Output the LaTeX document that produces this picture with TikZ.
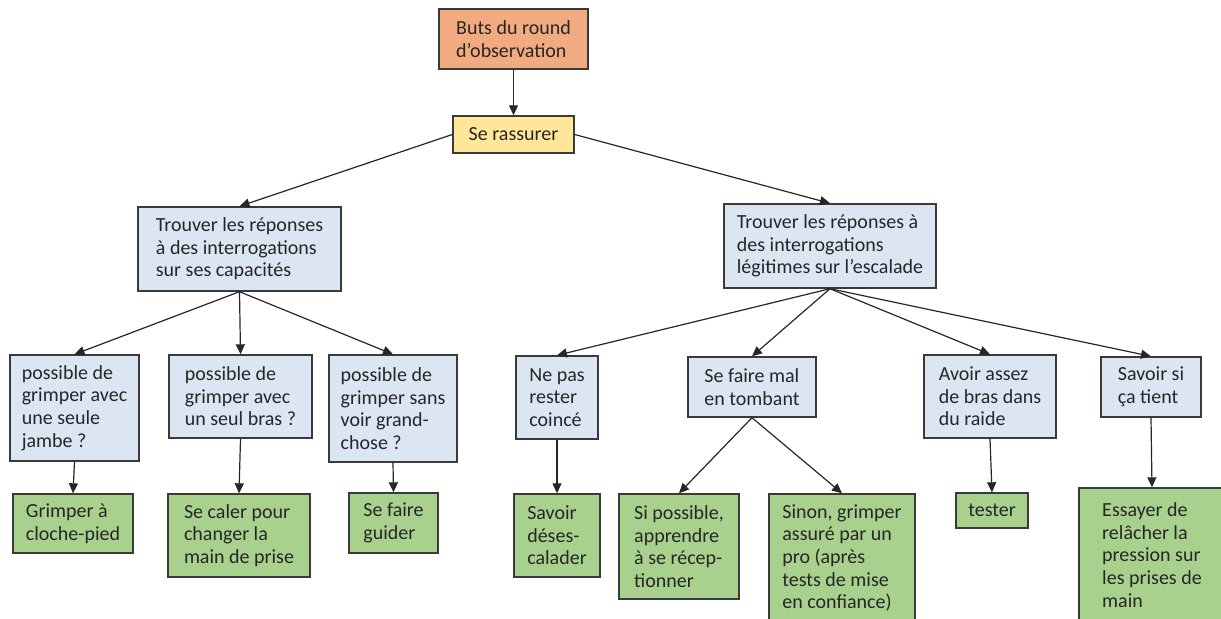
\documentclass[tikz,border=0pt]{standalone}
\usepackage{fontspec}
\setmainfont{Carlito}
\usepackage{xcolor}
\usetikzlibrary{arrows.meta}

\definecolor{butfill}{HTML}{F2AA80}
\definecolor{rassfill}{HTML}{FFE699}
\definecolor{questfill}{HTML}{DCE6F2}
\definecolor{repfill}{HTML}{A9D18E}
\definecolor{bord}{HTML}{3A3A3A}

\begin{document}
\begin{tikzpicture}[x=0.5pt, y=-0.5pt,
        boite/.style={draw=bord, line width=0.7pt, align=left, inner xsep=2pt, inner ysep=1pt,
            text=black!85, font=\fontsize{10}{11.3}\selectfont},
        but/.style={boite, fill=butfill},
        rass/.style={boite, fill=rassfill},
        quest/.style={boite, fill=questfill},
        rep/.style={boite, fill=repfill},
        fleche/.style={draw=black!85, line width=0.6pt, -{Triangle[length=5pt, width=4.5pt]}}]
    \useasboundingbox (0, 0) rectangle (1221, 618);
    \clip (0, 0) rectangle (1221, 618);

    % haut de l'arbre
    \node[but, minimum width=74.5pt, minimum height=30pt] (buts) at (513.5, 39) {Buts du round\\d’observation};
    \node[rass, minimum width=60.5pt, minimum height=18.5pt] (rassurer) at (513.5, 134.5) {Se rassurer};

    \node[quest, minimum width=101.5pt, minimum height=42pt] (capa) at (239.5, 249) {Trouver les réponses\\à des interrogations\\sur ses capacités};
    \node[quest, minimum width=106pt, minimum height=42pt] (escal) at (830, 246) {Trouver les réponses à\\des interrogations\\légitimes sur l’escalade};

    % branche gauche
    \node[quest, minimum width=64.5pt, minimum height=53pt] (jambe) at (74.5, 408) {possible de\\grimper avec\\une seule\\jambe ?};
    \node[quest, minimum width=71.5pt, minimum height=41.5pt] (bras) at (240.5, 396.5) {possible de\\grimper avec\\un seul bras ?};
    \node[quest, minimum width=64pt, minimum height=53.5pt] (voir) at (393, 408.5) {possible de\\grimper sans\\voir grand-\\chose ?};

    \node[rep, minimum width=60pt, minimum height=29.5pt] (cloche) at (73, 523.5) {Grimper à\\cloche-pied};
    \node[rep, minimum width=71pt, minimum height=41.5pt] (caler) at (239, 535.5) {Se caler pour\\changer la\\main de prise};
    \node[rep, minimum width=44.5pt, minimum height=30pt] (guider) at (393.5, 523) {Se faire\\guider};

    % branche droite
    \node[quest, minimum width=41pt, minimum height=41.5pt] (coince) at (557, 397.5) {Ne pas\\rester\\coincé};
    \node[quest, minimum width=64pt, minimum height=30pt] (tomber) at (752, 387) {Se faire mal\\en tombant};
    \node[quest, minimum width=66pt, minimum height=41.5pt] (raide) at (990, 396.5) {Avoir assez\\de bras dans\\du raide};
    \node[quest, minimum width=50pt, minimum height=30pt] (tient) at (1151, 387) {Savoir si\\ça tient};

    \node[rep, minimum width=43pt, minimum height=41.5pt] (deses) at (557, 535.5) {Savoir\\déses-\\calader};
    \node[rep, minimum width=60pt, minimum height=52.5pt] (recep) at (679, 546.5) {Si possible,\\apprendre\\à se récep-\\tionner};
    \node[rep, minimum width=73pt, minimum height=64pt] (pro) at (842, 558) {Sinon, grimper\\assuré par un\\pro (après\\tests de mise\\en confiance)};
    \node[rep, minimum width=36pt, minimum height=17.5pt] (tester) at (992, 510.5) {tester};
    \node[rep, minimum width=73pt, minimum height=67pt] (relacher) at (1152, 555) {Essayer de\\relâcher la\\pression sur\\les prises de\\main};

    % fleches
    \draw[fleche] (buts) -- (rassurer);
    \draw[fleche] (rassurer.west) -- (capa.north);
    \draw[fleche] (rassurer.east) -- (escal.north);

    \draw[fleche] (capa.south) -- (jambe.north);
    \draw[fleche] (capa.south) -- (bras.north);
    \draw[fleche] (capa.south) -- (voir.north);
    \draw[fleche] (jambe.south) -- (cloche.north);
    \draw[fleche] (bras.south) -- (caler.north);
    \draw[fleche] (voir.south) -- (guider.north);

    \draw[fleche] (escal.south) -- (coince.north);
    \draw[fleche] (escal.south) -- (tomber.north);
    \draw[fleche] (escal.south) -- (raide.north);
    \draw[fleche] (escal.south) -- (tient.north);
    \draw[fleche] (coince.south) -- (deses.north);
    \draw[fleche] (tomber.south) -- (recep.north);
    \draw[fleche] (tomber.south) -- (pro.north);
    \draw[fleche] (raide.south) -- (tester.north);
    \draw[fleche] (tient.south) -- (relacher.north);
\end{tikzpicture}
\end{document}
